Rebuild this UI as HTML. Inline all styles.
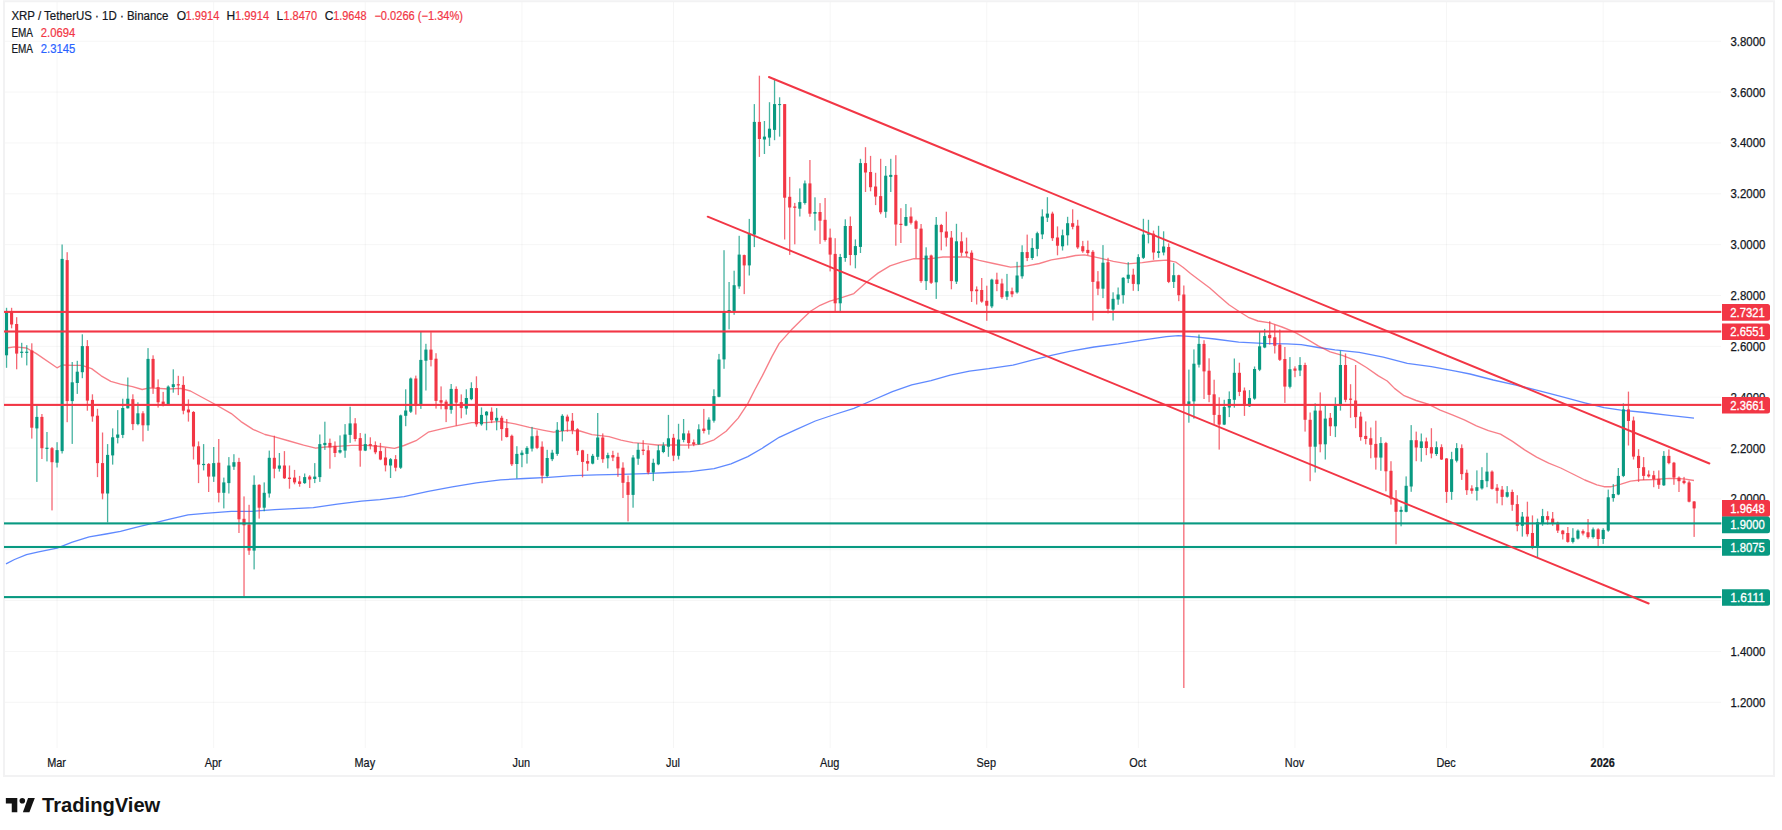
<!DOCTYPE html>
<html lang="en"><head><meta charset="utf-8"><title>XRP / TetherUS chart</title>
<style>html,body{margin:0;padding:0;background:#fff}body{width:1782px;height:830px;overflow:hidden;font-family:"Liberation Sans",sans-serif}svg{display:block}text{font-family:"Liberation Sans",sans-serif}</style>
</head><body>
<svg width="1782" height="830" viewBox="0 0 1782 830">
<rect width="1782" height="830" fill="#fff"/>
<g stroke="#000" stroke-opacity="0.04" stroke-width="1">
<line x1="5" x2="1721" y1="41.25" y2="41.25"/>
<line x1="5" x2="1721" y1="92.10" y2="92.10"/>
<line x1="5" x2="1721" y1="142.95" y2="142.95"/>
<line x1="5" x2="1721" y1="193.80" y2="193.80"/>
<line x1="5" x2="1721" y1="244.65" y2="244.65"/>
<line x1="5" x2="1721" y1="295.50" y2="295.50"/>
<line x1="5" x2="1721" y1="346.35" y2="346.35"/>
<line x1="5" x2="1721" y1="397.20" y2="397.20"/>
<line x1="5" x2="1721" y1="448.05" y2="448.05"/>
<line x1="5" x2="1721" y1="498.90" y2="498.90"/>
<line x1="5" x2="1721" y1="549.75" y2="549.75"/>
<line x1="5" x2="1721" y1="600.60" y2="600.60"/>
<line x1="5" x2="1721" y1="651.45" y2="651.45"/>
<line x1="5" x2="1721" y1="702.30" y2="702.30"/>
<line x1="57.07" x2="57.07" y1="2" y2="748"/>
<line x1="213.70" x2="213.70" y1="2" y2="748"/>
<line x1="365.28" x2="365.28" y1="2" y2="748"/>
<line x1="521.92" x2="521.92" y1="2" y2="748"/>
<line x1="673.50" x2="673.50" y1="2" y2="748"/>
<line x1="830.13" x2="830.13" y1="2" y2="748"/>
<line x1="986.76" x2="986.76" y1="2" y2="748"/>
<line x1="1138.34" x2="1138.34" y1="2" y2="748"/>
<line x1="1294.98" x2="1294.98" y1="2" y2="748"/>
<line x1="1446.56" x2="1446.56" y1="2" y2="748"/>
<line x1="1603.19" x2="1603.19" y1="2" y2="748"/>
</g>
<path d="M4 776V1.3H1774V776Z" fill="none" stroke="#f2f2f3" stroke-width="2"/>
<polyline points="6.0,563.9 14.5,559.5 26.5,554.7 38.6,551.8 57.1,548.2 72.3,542.2 89.2,536.9 106.0,534.0 120.5,531.3 134.9,527.7 149.4,524.1 168.7,519.3 188.0,514.9 204.8,513.3 231.3,511.3 253.0,511.3 274.7,509.6 313.3,507.7 337.3,504.1 361.4,501.2 380.0,499.7 404.0,496.6 428.2,491.3 452.3,486.9 476.4,482.8 500.5,479.9 524.6,478.5 548.7,477.3 572.8,475.6 596.9,474.9 621.0,474.4 645.0,473.7 669.0,472.5 690.0,471.6 714.1,468.7 731.0,463.9 747.8,456.6 762.3,448.2 779.2,437.3 796.0,429.6 815.3,421.0 834.6,414.5 853.9,408.4 873.1,400.0 892.4,391.6 911.7,384.8 931.0,380.7 950.2,375.2 969.5,371.1 988.8,368.7 1012.9,365.1 1032.2,360.2 1051.4,355.4 1070.7,351.1 1094.1,347.0 1118.2,343.9 1142.3,340.2 1166.4,336.6 1178.4,335.7 1195.3,336.9 1214.6,339.0 1238.7,342.2 1262.8,343.4 1286.9,343.9 1301.3,344.6 1318.2,347.5 1335.0,349.9 1359.2,352.3 1383.3,357.1 1407.3,363.4 1431.4,366.7 1455.5,371.1 1470.0,374.0 1493.3,380.0 1514.9,384.8 1536.6,390.1 1560.7,396.4 1584.8,402.9 1604.1,407.7 1621.0,410.1 1645.1,412.5 1669.2,415.4 1694.0,418.1" fill="none" stroke="#2962ff" stroke-width="1.3" stroke-opacity="0.75" stroke-linejoin="round"/>
<polyline points="6.7,348.0 14.5,346.9 26.5,348.0 36.0,353.4 57.0,367.8 62.2,365.0 72.3,365.4 82.0,365.4 91.6,368.6 101.2,375.8 110.8,381.3 120.5,384.2 132.5,386.6 142.2,389.5 149.4,387.8 168.7,389.0 180.7,388.3 190.4,391.0 202.4,397.5 214.5,404.0 231.3,413.6 241.0,421.6 253.0,429.4 265.0,434.5 274.7,436.9 289.2,441.0 303.6,445.1 315.7,448.2 325.3,447.0 337.3,446.3 351.8,445.3 366.3,445.3 380.7,446.5 394.5,448.4 404.0,445.5 416.0,440.7 428.2,432.2 442.7,428.6 457.0,425.7 471.6,422.6 486.0,422.6 500.5,421.4 515.0,423.8 529.4,427.4 543.9,430.3 553.5,432.2 568.0,430.3 580.0,431.0 592.0,434.6 609.0,436.6 621.0,440.2 633.0,442.6 645.0,443.6 657.0,445.0 674.0,444.8 690.0,445.1 702.0,444.1 714.1,439.8 726.1,431.3 738.2,418.1 747.8,403.6 755.1,389.2 762.3,375.9 771.9,356.6 779.2,343.4 791.2,330.1 800.8,320.5 810.5,311.3 820.1,305.3 829.8,301.2 839.4,298.4 853.9,293.6 865.9,282.8 878.0,273.1 890.0,265.9 902.0,261.8 914.1,258.7 931.0,258.7 943.0,257.0 955.0,257.0 967.1,257.0 979.2,260.4 993.6,263.5 1010.5,267.1 1027.3,265.9 1039.4,263.5 1051.4,259.9 1065.9,257.5 1075.5,255.5 1084.5,254.9 1098.9,257.8 1113.4,261.4 1127.8,263.9 1142.3,262.7 1154.3,261.0 1166.4,260.2 1176.0,262.2 1183.3,267.5 1190.5,273.5 1200.1,280.7 1209.8,288.0 1219.4,296.4 1229.0,304.8 1238.7,311.3 1248.3,317.3 1258.0,321.0 1270.0,322.9 1282.0,327.0 1294.1,331.8 1306.1,338.6 1318.2,345.8 1330.2,351.8 1342.3,355.4 1354.3,360.2 1366.4,367.5 1378.4,375.9 1387.2,381.0 1394.5,388.4 1404.1,395.7 1416.1,400.5 1428.2,404.1 1440.2,410.1 1452.3,414.9 1464.3,419.8 1476.4,425.8 1488.4,430.6 1500.5,434.2 1512.5,441.4 1524.6,449.9 1536.6,457.1 1548.7,463.1 1560.7,468.0 1572.8,474.0 1584.8,480.0 1596.9,484.8 1604.1,486.7 1611.3,486.7 1621.0,484.1 1630.6,481.2 1640.2,480.0 1654.7,479.5 1669.2,478.3 1683.6,478.8 1694.0,480.5" fill="none" stroke="#f23645" stroke-width="1.35" stroke-opacity="0.64" stroke-linejoin="round"/>
<g>
<rect x="5.89" y="307.8" width="1.3" height="60.0" fill="#089981" fill-opacity="0.75"/>
<rect x="4.99" y="311.9" width="3.1" height="43.4" fill="#089981"/>
<rect x="10.94" y="307.8" width="1.3" height="20.5" fill="#f23645" fill-opacity="0.75"/>
<rect x="10.04" y="311.4" width="3.1" height="13.1" fill="#f23645"/>
<rect x="16.00" y="317.2" width="1.3" height="52.1" fill="#f23645" fill-opacity="0.75"/>
<rect x="15.10" y="324.0" width="3.1" height="29.6" fill="#f23645"/>
<rect x="21.05" y="342.8" width="1.3" height="14.9" fill="#089981" fill-opacity="0.75"/>
<rect x="20.15" y="351.7" width="3.1" height="1.2" fill="#089981"/>
<rect x="26.10" y="345.2" width="1.3" height="20.2" fill="#089981" fill-opacity="0.75"/>
<rect x="25.20" y="351.7" width="3.1" height="1.2" fill="#089981"/>
<rect x="31.15" y="343.3" width="1.3" height="95.3" fill="#f23645" fill-opacity="0.75"/>
<rect x="30.25" y="350.5" width="3.1" height="77.2" fill="#f23645"/>
<rect x="36.21" y="405.3" width="1.3" height="76.6" fill="#089981" fill-opacity="0.75"/>
<rect x="35.31" y="416.9" width="3.1" height="11.5" fill="#089981"/>
<rect x="41.26" y="414.0" width="1.3" height="45.0" fill="#f23645" fill-opacity="0.75"/>
<rect x="40.36" y="416.9" width="3.1" height="31.3" fill="#f23645"/>
<rect x="46.31" y="432.0" width="1.3" height="29.4" fill="#089981" fill-opacity="0.75"/>
<rect x="45.41" y="447.7" width="3.1" height="1.2" fill="#089981"/>
<rect x="51.36" y="447.0" width="1.3" height="63.4" fill="#f23645" fill-opacity="0.75"/>
<rect x="50.46" y="448.2" width="3.1" height="14.0" fill="#f23645"/>
<rect x="56.42" y="442.2" width="1.3" height="25.3" fill="#089981" fill-opacity="0.75"/>
<rect x="55.52" y="450.1" width="3.1" height="12.6" fill="#089981"/>
<rect x="61.47" y="244.5" width="1.3" height="209.0" fill="#089981" fill-opacity="0.75"/>
<rect x="60.57" y="258.9" width="3.1" height="192.2" fill="#089981"/>
<rect x="66.52" y="252.2" width="1.3" height="170.0" fill="#f23645" fill-opacity="0.75"/>
<rect x="65.62" y="260.1" width="3.1" height="141.0" fill="#f23645"/>
<rect x="71.58" y="362.0" width="1.3" height="81.9" fill="#089981" fill-opacity="0.75"/>
<rect x="70.68" y="382.3" width="3.1" height="18.8" fill="#089981"/>
<rect x="76.63" y="360.8" width="1.3" height="33.1" fill="#089981" fill-opacity="0.75"/>
<rect x="75.73" y="371.7" width="3.1" height="11.3" fill="#089981"/>
<rect x="81.68" y="334.3" width="1.3" height="43.9" fill="#089981" fill-opacity="0.75"/>
<rect x="80.78" y="346.1" width="3.1" height="26.1" fill="#089981"/>
<rect x="86.73" y="340.1" width="1.3" height="70.6" fill="#f23645" fill-opacity="0.75"/>
<rect x="85.83" y="346.1" width="3.1" height="54.5" fill="#f23645"/>
<rect x="91.79" y="394.3" width="1.3" height="27.4" fill="#f23645" fill-opacity="0.75"/>
<rect x="90.89" y="399.9" width="3.1" height="16.5" fill="#f23645"/>
<rect x="96.84" y="408.8" width="1.3" height="68.3" fill="#f23645" fill-opacity="0.75"/>
<rect x="95.94" y="415.7" width="3.1" height="47.4" fill="#f23645"/>
<rect x="101.89" y="432.5" width="1.3" height="66.8" fill="#f23645" fill-opacity="0.75"/>
<rect x="100.99" y="463.1" width="3.1" height="30.4" fill="#f23645"/>
<rect x="106.94" y="444.1" width="1.3" height="78.3" fill="#089981" fill-opacity="0.75"/>
<rect x="106.04" y="454.9" width="3.1" height="38.6" fill="#089981"/>
<rect x="112.00" y="428.4" width="1.3" height="36.2" fill="#089981" fill-opacity="0.75"/>
<rect x="111.10" y="437.3" width="3.1" height="18.1" fill="#089981"/>
<rect x="117.05" y="410.1" width="1.3" height="33.3" fill="#089981" fill-opacity="0.75"/>
<rect x="116.15" y="434.5" width="3.1" height="3.3" fill="#089981"/>
<rect x="122.10" y="398.7" width="1.3" height="39.4" fill="#089981" fill-opacity="0.75"/>
<rect x="121.20" y="408.0" width="3.1" height="26.9" fill="#089981"/>
<rect x="127.15" y="377.5" width="1.3" height="31.0" fill="#089981" fill-opacity="0.75"/>
<rect x="126.25" y="398.7" width="3.1" height="9.6" fill="#089981"/>
<rect x="132.21" y="394.3" width="1.3" height="35.8" fill="#f23645" fill-opacity="0.75"/>
<rect x="131.31" y="399.2" width="3.1" height="24.9" fill="#f23645"/>
<rect x="137.26" y="402.3" width="1.3" height="23.0" fill="#089981" fill-opacity="0.75"/>
<rect x="136.36" y="413.3" width="3.1" height="10.8" fill="#089981"/>
<rect x="142.31" y="411.2" width="1.3" height="30.2" fill="#f23645" fill-opacity="0.75"/>
<rect x="141.41" y="413.3" width="3.1" height="12.0" fill="#f23645"/>
<rect x="147.37" y="348.1" width="1.3" height="82.7" fill="#089981" fill-opacity="0.75"/>
<rect x="146.47" y="358.9" width="3.1" height="66.4" fill="#089981"/>
<rect x="152.42" y="355.3" width="1.3" height="38.6" fill="#f23645" fill-opacity="0.75"/>
<rect x="151.52" y="358.9" width="3.1" height="28.9" fill="#f23645"/>
<rect x="157.47" y="379.4" width="1.3" height="28.2" fill="#f23645" fill-opacity="0.75"/>
<rect x="156.57" y="387.1" width="3.1" height="15.2" fill="#f23645"/>
<rect x="162.52" y="391.9" width="1.3" height="14.5" fill="#f23645" fill-opacity="0.75"/>
<rect x="161.62" y="401.6" width="3.1" height="3.1" fill="#f23645"/>
<rect x="167.58" y="385.4" width="1.3" height="20.0" fill="#089981" fill-opacity="0.75"/>
<rect x="166.68" y="386.6" width="3.1" height="18.1" fill="#089981"/>
<rect x="172.63" y="369.3" width="1.3" height="23.4" fill="#089981" fill-opacity="0.75"/>
<rect x="171.73" y="384.2" width="3.1" height="2.9" fill="#089981"/>
<rect x="177.68" y="375.8" width="1.3" height="19.3" fill="#f23645" fill-opacity="0.75"/>
<rect x="176.78" y="384.2" width="3.1" height="1.2" fill="#f23645"/>
<rect x="182.73" y="376.3" width="1.3" height="38.0" fill="#f23645" fill-opacity="0.75"/>
<rect x="181.83" y="384.9" width="3.1" height="25.8" fill="#f23645"/>
<rect x="187.79" y="399.4" width="1.3" height="22.2" fill="#f23645" fill-opacity="0.75"/>
<rect x="186.89" y="409.5" width="3.1" height="2.9" fill="#f23645"/>
<rect x="192.84" y="411.0" width="1.3" height="48.5" fill="#f23645" fill-opacity="0.75"/>
<rect x="191.94" y="412.0" width="3.1" height="34.5" fill="#f23645"/>
<rect x="197.89" y="441.4" width="1.3" height="41.7" fill="#f23645" fill-opacity="0.75"/>
<rect x="196.99" y="446.3" width="3.1" height="18.3" fill="#f23645"/>
<rect x="202.95" y="444.1" width="1.3" height="26.3" fill="#089981" fill-opacity="0.75"/>
<rect x="202.05" y="463.9" width="3.1" height="1.2" fill="#089981"/>
<rect x="208.00" y="463.1" width="1.3" height="28.9" fill="#f23645" fill-opacity="0.75"/>
<rect x="207.10" y="463.9" width="3.1" height="12.7" fill="#f23645"/>
<rect x="213.05" y="447.0" width="1.3" height="34.9" fill="#089981" fill-opacity="0.75"/>
<rect x="212.15" y="463.1" width="3.1" height="13.5" fill="#089981"/>
<rect x="218.10" y="439.0" width="1.3" height="63.4" fill="#f23645" fill-opacity="0.75"/>
<rect x="217.20" y="462.7" width="3.1" height="30.1" fill="#f23645"/>
<rect x="223.16" y="477.6" width="1.3" height="30.8" fill="#089981" fill-opacity="0.75"/>
<rect x="222.26" y="482.4" width="3.1" height="10.4" fill="#089981"/>
<rect x="228.21" y="457.1" width="1.3" height="36.4" fill="#089981" fill-opacity="0.75"/>
<rect x="227.31" y="465.5" width="3.1" height="17.6" fill="#089981"/>
<rect x="233.26" y="454.2" width="1.3" height="15.7" fill="#089981" fill-opacity="0.75"/>
<rect x="232.36" y="462.2" width="3.1" height="4.5" fill="#089981"/>
<rect x="238.31" y="457.8" width="1.3" height="75.2" fill="#f23645" fill-opacity="0.75"/>
<rect x="237.41" y="461.9" width="3.1" height="57.4" fill="#f23645"/>
<rect x="243.37" y="496.4" width="1.3" height="100.0" fill="#f23645" fill-opacity="0.75"/>
<rect x="242.47" y="518.8" width="3.1" height="6.5" fill="#f23645"/>
<rect x="248.42" y="504.8" width="1.3" height="50.1" fill="#f23645" fill-opacity="0.75"/>
<rect x="247.52" y="524.6" width="3.1" height="26.0" fill="#f23645"/>
<rect x="253.47" y="475.4" width="1.3" height="94.0" fill="#089981" fill-opacity="0.75"/>
<rect x="252.57" y="484.8" width="3.1" height="65.8" fill="#089981"/>
<rect x="258.53" y="484.3" width="1.3" height="34.3" fill="#f23645" fill-opacity="0.75"/>
<rect x="257.62" y="484.8" width="3.1" height="22.9" fill="#f23645"/>
<rect x="263.58" y="482.4" width="1.3" height="28.9" fill="#089981" fill-opacity="0.75"/>
<rect x="262.68" y="492.8" width="3.1" height="14.9" fill="#089981"/>
<rect x="268.63" y="450.6" width="1.3" height="47.0" fill="#089981" fill-opacity="0.75"/>
<rect x="267.73" y="457.8" width="3.1" height="35.7" fill="#089981"/>
<rect x="273.68" y="435.7" width="1.3" height="42.6" fill="#f23645" fill-opacity="0.75"/>
<rect x="272.78" y="457.8" width="3.1" height="10.9" fill="#f23645"/>
<rect x="278.74" y="453.0" width="1.3" height="18.6" fill="#089981" fill-opacity="0.75"/>
<rect x="277.84" y="465.5" width="3.1" height="3.2" fill="#089981"/>
<rect x="283.79" y="451.1" width="1.3" height="27.9" fill="#f23645" fill-opacity="0.75"/>
<rect x="282.89" y="465.5" width="3.1" height="12.8" fill="#f23645"/>
<rect x="288.84" y="465.5" width="1.3" height="23.2" fill="#f23645" fill-opacity="0.75"/>
<rect x="287.94" y="477.6" width="3.1" height="1.4" fill="#f23645"/>
<rect x="293.89" y="469.9" width="1.3" height="14.4" fill="#f23645" fill-opacity="0.75"/>
<rect x="292.99" y="477.6" width="3.1" height="4.8" fill="#f23645"/>
<rect x="298.95" y="475.9" width="1.3" height="10.8" fill="#f23645" fill-opacity="0.75"/>
<rect x="298.05" y="481.4" width="3.1" height="2.5" fill="#f23645"/>
<rect x="304.00" y="473.5" width="1.3" height="10.4" fill="#089981" fill-opacity="0.75"/>
<rect x="303.10" y="477.1" width="3.1" height="6.0" fill="#089981"/>
<rect x="309.05" y="475.2" width="1.3" height="12.8" fill="#f23645" fill-opacity="0.75"/>
<rect x="308.15" y="476.6" width="3.1" height="2.9" fill="#f23645"/>
<rect x="314.10" y="463.1" width="1.3" height="20.0" fill="#089981" fill-opacity="0.75"/>
<rect x="313.20" y="476.6" width="3.1" height="2.4" fill="#089981"/>
<rect x="319.16" y="434.5" width="1.3" height="47.4" fill="#089981" fill-opacity="0.75"/>
<rect x="318.26" y="444.1" width="3.1" height="33.0" fill="#089981"/>
<rect x="324.21" y="421.7" width="1.3" height="28.2" fill="#089981" fill-opacity="0.75"/>
<rect x="323.31" y="442.9" width="3.1" height="2.2" fill="#089981"/>
<rect x="329.26" y="438.6" width="1.3" height="30.1" fill="#f23645" fill-opacity="0.75"/>
<rect x="328.36" y="442.9" width="3.1" height="4.6" fill="#f23645"/>
<rect x="334.32" y="441.4" width="1.3" height="15.7" fill="#f23645" fill-opacity="0.75"/>
<rect x="333.42" y="445.8" width="3.1" height="7.2" fill="#f23645"/>
<rect x="339.37" y="435.4" width="1.3" height="18.1" fill="#089981" fill-opacity="0.75"/>
<rect x="338.47" y="450.1" width="3.1" height="2.4" fill="#089981"/>
<rect x="344.42" y="424.1" width="1.3" height="33.7" fill="#089981" fill-opacity="0.75"/>
<rect x="343.52" y="434.5" width="3.1" height="16.1" fill="#089981"/>
<rect x="349.47" y="406.7" width="1.3" height="36.2" fill="#089981" fill-opacity="0.75"/>
<rect x="348.57" y="423.4" width="3.1" height="11.5" fill="#089981"/>
<rect x="354.53" y="418.1" width="1.3" height="23.3" fill="#f23645" fill-opacity="0.75"/>
<rect x="353.63" y="423.4" width="3.1" height="15.6" fill="#f23645"/>
<rect x="359.58" y="433.0" width="1.3" height="33.7" fill="#f23645" fill-opacity="0.75"/>
<rect x="358.68" y="438.1" width="3.1" height="12.5" fill="#f23645"/>
<rect x="364.63" y="433.7" width="1.3" height="17.4" fill="#089981" fill-opacity="0.75"/>
<rect x="363.73" y="444.1" width="3.1" height="6.5" fill="#089981"/>
<rect x="369.68" y="437.3" width="1.3" height="12.1" fill="#f23645" fill-opacity="0.75"/>
<rect x="368.78" y="444.1" width="3.1" height="1.7" fill="#f23645"/>
<rect x="374.74" y="441.4" width="1.3" height="12.8" fill="#f23645" fill-opacity="0.75"/>
<rect x="373.84" y="445.1" width="3.1" height="7.2" fill="#f23645"/>
<rect x="379.79" y="442.9" width="1.3" height="17.3" fill="#f23645" fill-opacity="0.75"/>
<rect x="378.89" y="451.1" width="3.1" height="8.4" fill="#f23645"/>
<rect x="384.84" y="447.8" width="1.3" height="23.6" fill="#f23645" fill-opacity="0.75"/>
<rect x="383.94" y="457.5" width="3.1" height="7.8" fill="#f23645"/>
<rect x="389.90" y="458.0" width="1.3" height="20.0" fill="#089981" fill-opacity="0.75"/>
<rect x="389.00" y="459.2" width="3.1" height="6.3" fill="#089981"/>
<rect x="394.95" y="455.1" width="1.3" height="16.2" fill="#f23645" fill-opacity="0.75"/>
<rect x="394.05" y="459.2" width="3.1" height="8.5" fill="#f23645"/>
<rect x="400.00" y="414.6" width="1.3" height="54.3" fill="#089981" fill-opacity="0.75"/>
<rect x="399.10" y="415.4" width="3.1" height="52.3" fill="#089981"/>
<rect x="405.05" y="389.3" width="1.3" height="36.9" fill="#089981" fill-opacity="0.75"/>
<rect x="404.15" y="410.5" width="3.1" height="5.3" fill="#089981"/>
<rect x="410.11" y="377.5" width="1.3" height="35.5" fill="#089981" fill-opacity="0.75"/>
<rect x="409.21" y="378.5" width="3.1" height="33.2" fill="#089981"/>
<rect x="415.16" y="375.6" width="1.3" height="39.0" fill="#f23645" fill-opacity="0.75"/>
<rect x="414.26" y="378.5" width="3.1" height="27.2" fill="#f23645"/>
<rect x="420.21" y="331.7" width="1.3" height="77.2" fill="#089981" fill-opacity="0.75"/>
<rect x="419.31" y="359.9" width="3.1" height="45.8" fill="#089981"/>
<rect x="425.26" y="343.8" width="1.3" height="46.7" fill="#089981" fill-opacity="0.75"/>
<rect x="424.36" y="349.6" width="3.1" height="11.1" fill="#089981"/>
<rect x="430.32" y="332.2" width="1.3" height="34.2" fill="#f23645" fill-opacity="0.75"/>
<rect x="429.42" y="349.6" width="3.1" height="10.3" fill="#f23645"/>
<rect x="435.37" y="353.2" width="1.3" height="55.4" fill="#f23645" fill-opacity="0.75"/>
<rect x="434.47" y="358.7" width="3.1" height="42.2" fill="#f23645"/>
<rect x="440.42" y="386.4" width="1.3" height="22.9" fill="#f23645" fill-opacity="0.75"/>
<rect x="439.52" y="400.2" width="3.1" height="2.4" fill="#f23645"/>
<rect x="445.47" y="399.7" width="1.3" height="22.4" fill="#f23645" fill-opacity="0.75"/>
<rect x="444.57" y="401.6" width="3.1" height="7.7" fill="#f23645"/>
<rect x="450.53" y="384.0" width="1.3" height="29.7" fill="#089981" fill-opacity="0.75"/>
<rect x="449.63" y="388.9" width="3.1" height="20.9" fill="#089981"/>
<rect x="455.58" y="386.4" width="1.3" height="39.3" fill="#f23645" fill-opacity="0.75"/>
<rect x="454.68" y="388.9" width="3.1" height="13.7" fill="#f23645"/>
<rect x="460.63" y="394.4" width="1.3" height="23.9" fill="#f23645" fill-opacity="0.75"/>
<rect x="459.73" y="402.1" width="3.1" height="6.0" fill="#f23645"/>
<rect x="465.69" y="389.3" width="1.3" height="25.3" fill="#089981" fill-opacity="0.75"/>
<rect x="464.79" y="398.0" width="3.1" height="10.6" fill="#089981"/>
<rect x="470.74" y="382.3" width="1.3" height="17.9" fill="#089981" fill-opacity="0.75"/>
<rect x="469.84" y="388.1" width="3.1" height="11.1" fill="#089981"/>
<rect x="475.79" y="376.3" width="1.3" height="50.4" fill="#f23645" fill-opacity="0.75"/>
<rect x="474.89" y="388.1" width="3.1" height="36.2" fill="#f23645"/>
<rect x="480.84" y="407.4" width="1.3" height="18.3" fill="#089981" fill-opacity="0.75"/>
<rect x="479.94" y="414.9" width="3.1" height="9.4" fill="#089981"/>
<rect x="485.90" y="411.0" width="1.3" height="19.3" fill="#089981" fill-opacity="0.75"/>
<rect x="485.00" y="411.7" width="3.1" height="3.7" fill="#089981"/>
<rect x="490.95" y="407.4" width="1.3" height="15.7" fill="#f23645" fill-opacity="0.75"/>
<rect x="490.05" y="411.7" width="3.1" height="8.5" fill="#f23645"/>
<rect x="496.00" y="408.1" width="1.3" height="22.2" fill="#089981" fill-opacity="0.75"/>
<rect x="495.10" y="417.8" width="3.1" height="2.9" fill="#089981"/>
<rect x="501.05" y="415.8" width="1.3" height="24.9" fill="#f23645" fill-opacity="0.75"/>
<rect x="500.15" y="417.8" width="3.1" height="11.3" fill="#f23645"/>
<rect x="506.11" y="419.0" width="1.3" height="18.5" fill="#f23645" fill-opacity="0.75"/>
<rect x="505.21" y="428.1" width="3.1" height="8.9" fill="#f23645"/>
<rect x="511.16" y="434.6" width="1.3" height="31.4" fill="#f23645" fill-opacity="0.75"/>
<rect x="510.26" y="435.8" width="3.1" height="28.5" fill="#f23645"/>
<rect x="516.21" y="446.2" width="1.3" height="32.3" fill="#089981" fill-opacity="0.75"/>
<rect x="515.31" y="453.9" width="3.1" height="10.1" fill="#089981"/>
<rect x="521.27" y="450.3" width="1.3" height="16.9" fill="#089981" fill-opacity="0.75"/>
<rect x="520.37" y="452.7" width="3.1" height="2.4" fill="#089981"/>
<rect x="526.32" y="446.2" width="1.3" height="17.4" fill="#089981" fill-opacity="0.75"/>
<rect x="525.42" y="447.9" width="3.1" height="6.0" fill="#089981"/>
<rect x="531.37" y="426.9" width="1.3" height="24.6" fill="#089981" fill-opacity="0.75"/>
<rect x="530.47" y="436.3" width="3.1" height="12.3" fill="#089981"/>
<rect x="536.42" y="430.3" width="1.3" height="18.8" fill="#f23645" fill-opacity="0.75"/>
<rect x="535.52" y="435.8" width="3.1" height="12.1" fill="#f23645"/>
<rect x="541.48" y="441.4" width="1.3" height="41.9" fill="#f23645" fill-opacity="0.75"/>
<rect x="540.58" y="446.7" width="3.1" height="28.9" fill="#f23645"/>
<rect x="546.53" y="449.8" width="1.3" height="27.7" fill="#089981" fill-opacity="0.75"/>
<rect x="545.63" y="458.0" width="3.1" height="18.1" fill="#089981"/>
<rect x="551.58" y="449.8" width="1.3" height="11.3" fill="#089981" fill-opacity="0.75"/>
<rect x="550.68" y="452.7" width="3.1" height="6.5" fill="#089981"/>
<rect x="556.63" y="422.1" width="1.3" height="33.7" fill="#089981" fill-opacity="0.75"/>
<rect x="555.73" y="429.8" width="3.1" height="24.1" fill="#089981"/>
<rect x="561.69" y="414.2" width="1.3" height="27.2" fill="#089981" fill-opacity="0.75"/>
<rect x="560.79" y="415.8" width="3.1" height="15.2" fill="#089981"/>
<rect x="566.74" y="414.6" width="1.3" height="17.1" fill="#f23645" fill-opacity="0.75"/>
<rect x="565.84" y="416.6" width="3.1" height="4.8" fill="#f23645"/>
<rect x="571.79" y="413.0" width="1.3" height="21.2" fill="#f23645" fill-opacity="0.75"/>
<rect x="570.89" y="420.7" width="3.1" height="9.6" fill="#f23645"/>
<rect x="576.85" y="428.1" width="1.3" height="27.0" fill="#f23645" fill-opacity="0.75"/>
<rect x="575.95" y="429.3" width="3.1" height="21.5" fill="#f23645"/>
<rect x="581.90" y="449.8" width="1.3" height="27.5" fill="#f23645" fill-opacity="0.75"/>
<rect x="581.00" y="450.3" width="3.1" height="11.6" fill="#f23645"/>
<rect x="586.95" y="453.9" width="1.3" height="16.9" fill="#f23645" fill-opacity="0.75"/>
<rect x="586.05" y="461.1" width="3.1" height="2.5" fill="#f23645"/>
<rect x="592.00" y="453.9" width="1.3" height="10.4" fill="#089981" fill-opacity="0.75"/>
<rect x="591.10" y="455.8" width="3.1" height="7.8" fill="#089981"/>
<rect x="597.06" y="413.0" width="1.3" height="46.9" fill="#089981" fill-opacity="0.75"/>
<rect x="596.16" y="437.5" width="3.1" height="19.3" fill="#089981"/>
<rect x="602.11" y="433.4" width="1.3" height="29.4" fill="#f23645" fill-opacity="0.75"/>
<rect x="601.21" y="437.5" width="3.1" height="21.7" fill="#f23645"/>
<rect x="607.16" y="452.7" width="1.3" height="15.7" fill="#089981" fill-opacity="0.75"/>
<rect x="606.26" y="455.1" width="3.1" height="3.2" fill="#089981"/>
<rect x="612.21" y="450.8" width="1.3" height="10.3" fill="#f23645" fill-opacity="0.75"/>
<rect x="611.31" y="455.1" width="3.1" height="2.4" fill="#f23645"/>
<rect x="617.27" y="452.7" width="1.3" height="24.1" fill="#f23645" fill-opacity="0.75"/>
<rect x="616.37" y="456.8" width="3.1" height="11.6" fill="#f23645"/>
<rect x="622.32" y="462.3" width="1.3" height="35.7" fill="#f23645" fill-opacity="0.75"/>
<rect x="621.42" y="467.7" width="3.1" height="15.1" fill="#f23645"/>
<rect x="627.37" y="475.6" width="1.3" height="45.8" fill="#f23645" fill-opacity="0.75"/>
<rect x="626.47" y="482.1" width="3.1" height="12.8" fill="#f23645"/>
<rect x="632.42" y="455.1" width="1.3" height="52.6" fill="#089981" fill-opacity="0.75"/>
<rect x="631.52" y="457.5" width="3.1" height="37.4" fill="#089981"/>
<rect x="637.48" y="443.1" width="1.3" height="21.7" fill="#089981" fill-opacity="0.75"/>
<rect x="636.58" y="449.8" width="3.1" height="8.9" fill="#089981"/>
<rect x="642.53" y="440.2" width="1.3" height="14.9" fill="#f23645" fill-opacity="0.75"/>
<rect x="641.63" y="449.6" width="3.1" height="1.4" fill="#f23645"/>
<rect x="647.58" y="445.5" width="1.3" height="28.9" fill="#f23645" fill-opacity="0.75"/>
<rect x="646.68" y="450.3" width="3.1" height="22.2" fill="#f23645"/>
<rect x="652.64" y="458.7" width="1.3" height="22.4" fill="#089981" fill-opacity="0.75"/>
<rect x="651.74" y="462.8" width="3.1" height="9.7" fill="#089981"/>
<rect x="657.69" y="445.0" width="1.3" height="20.2" fill="#089981" fill-opacity="0.75"/>
<rect x="656.79" y="450.3" width="3.1" height="14.0" fill="#089981"/>
<rect x="662.74" y="442.3" width="1.3" height="10.9" fill="#089981" fill-opacity="0.75"/>
<rect x="661.84" y="445.5" width="3.1" height="6.5" fill="#089981"/>
<rect x="667.79" y="414.9" width="1.3" height="41.9" fill="#089981" fill-opacity="0.75"/>
<rect x="666.89" y="438.3" width="3.1" height="8.4" fill="#089981"/>
<rect x="672.85" y="433.9" width="1.3" height="27.2" fill="#f23645" fill-opacity="0.75"/>
<rect x="671.95" y="437.8" width="3.1" height="17.8" fill="#f23645"/>
<rect x="677.90" y="423.8" width="1.3" height="35.7" fill="#089981" fill-opacity="0.75"/>
<rect x="677.00" y="439.5" width="3.1" height="16.3" fill="#089981"/>
<rect x="682.95" y="419.0" width="1.3" height="23.3" fill="#089981" fill-opacity="0.75"/>
<rect x="682.05" y="433.4" width="3.1" height="6.5" fill="#089981"/>
<rect x="688.00" y="430.5" width="1.3" height="18.1" fill="#f23645" fill-opacity="0.75"/>
<rect x="687.10" y="433.4" width="3.1" height="9.7" fill="#f23645"/>
<rect x="693.06" y="439.5" width="1.3" height="6.7" fill="#f23645" fill-opacity="0.75"/>
<rect x="692.16" y="442.3" width="3.1" height="2.0" fill="#f23645"/>
<rect x="698.11" y="424.3" width="1.3" height="20.5" fill="#089981" fill-opacity="0.75"/>
<rect x="697.21" y="429.3" width="3.1" height="15.0" fill="#089981"/>
<rect x="703.16" y="408.9" width="1.3" height="24.5" fill="#f23645" fill-opacity="0.75"/>
<rect x="702.26" y="428.6" width="3.1" height="2.4" fill="#f23645"/>
<rect x="708.22" y="417.3" width="1.3" height="17.3" fill="#089981" fill-opacity="0.75"/>
<rect x="707.32" y="419.7" width="3.1" height="10.1" fill="#089981"/>
<rect x="713.27" y="389.3" width="1.3" height="33.3" fill="#089981" fill-opacity="0.75"/>
<rect x="712.37" y="396.1" width="3.1" height="24.6" fill="#089981"/>
<rect x="718.32" y="353.9" width="1.3" height="43.4" fill="#089981" fill-opacity="0.75"/>
<rect x="717.42" y="359.5" width="3.1" height="37.3" fill="#089981"/>
<rect x="723.37" y="250.2" width="1.3" height="118.6" fill="#089981" fill-opacity="0.75"/>
<rect x="722.47" y="311.7" width="3.1" height="47.7" fill="#089981"/>
<rect x="728.43" y="282.0" width="1.3" height="47.3" fill="#089981" fill-opacity="0.75"/>
<rect x="727.53" y="310.0" width="3.1" height="2.2" fill="#089981"/>
<rect x="733.48" y="270.7" width="1.3" height="44.1" fill="#089981" fill-opacity="0.75"/>
<rect x="732.58" y="285.2" width="3.1" height="26.5" fill="#089981"/>
<rect x="738.53" y="235.8" width="1.3" height="53.0" fill="#089981" fill-opacity="0.75"/>
<rect x="737.63" y="254.6" width="3.1" height="31.8" fill="#089981"/>
<rect x="743.58" y="254.6" width="1.3" height="39.5" fill="#f23645" fill-opacity="0.75"/>
<rect x="742.68" y="255.1" width="3.1" height="10.3" fill="#f23645"/>
<rect x="748.64" y="218.9" width="1.3" height="56.6" fill="#089981" fill-opacity="0.75"/>
<rect x="747.74" y="234.1" width="3.1" height="31.3" fill="#089981"/>
<rect x="753.69" y="104.1" width="1.3" height="143.0" fill="#089981" fill-opacity="0.75"/>
<rect x="752.79" y="121.9" width="3.1" height="112.7" fill="#089981"/>
<rect x="758.74" y="75.7" width="1.3" height="81.2" fill="#f23645" fill-opacity="0.75"/>
<rect x="757.84" y="121.9" width="3.1" height="17.1" fill="#f23645"/>
<rect x="763.79" y="121.0" width="1.3" height="33.0" fill="#089981" fill-opacity="0.75"/>
<rect x="762.89" y="136.6" width="3.1" height="2.9" fill="#089981"/>
<rect x="768.85" y="102.2" width="1.3" height="43.8" fill="#089981" fill-opacity="0.75"/>
<rect x="767.95" y="128.7" width="3.1" height="8.9" fill="#089981"/>
<rect x="773.90" y="78.8" width="1.3" height="61.4" fill="#089981" fill-opacity="0.75"/>
<rect x="773.00" y="104.1" width="3.1" height="25.8" fill="#089981"/>
<rect x="778.95" y="97.3" width="1.3" height="39.3" fill="#089981" fill-opacity="0.75"/>
<rect x="778.05" y="104.1" width="3.1" height="1.0" fill="#089981"/>
<rect x="784.01" y="104.1" width="1.3" height="135.4" fill="#f23645" fill-opacity="0.75"/>
<rect x="783.11" y="104.1" width="3.1" height="93.6" fill="#f23645"/>
<rect x="789.06" y="176.9" width="1.3" height="78.0" fill="#f23645" fill-opacity="0.75"/>
<rect x="788.16" y="196.8" width="3.1" height="10.7" fill="#f23645"/>
<rect x="794.11" y="202.9" width="1.3" height="41.4" fill="#f23645" fill-opacity="0.75"/>
<rect x="793.21" y="206.5" width="3.1" height="1.3" fill="#f23645"/>
<rect x="799.16" y="188.4" width="1.3" height="28.1" fill="#089981" fill-opacity="0.75"/>
<rect x="798.26" y="202.1" width="3.1" height="6.6" fill="#089981"/>
<rect x="804.22" y="180.5" width="1.3" height="24.1" fill="#089981" fill-opacity="0.75"/>
<rect x="803.32" y="183.4" width="3.1" height="19.6" fill="#089981"/>
<rect x="809.27" y="160.0" width="1.3" height="56.8" fill="#f23645" fill-opacity="0.75"/>
<rect x="808.37" y="183.4" width="3.1" height="30.3" fill="#f23645"/>
<rect x="814.32" y="197.3" width="1.3" height="33.2" fill="#089981" fill-opacity="0.75"/>
<rect x="813.42" y="212.0" width="3.1" height="1.7" fill="#089981"/>
<rect x="819.37" y="203.1" width="1.3" height="40.8" fill="#f23645" fill-opacity="0.75"/>
<rect x="818.47" y="212.0" width="3.1" height="8.7" fill="#f23645"/>
<rect x="824.43" y="198.0" width="1.3" height="43.6" fill="#f23645" fill-opacity="0.75"/>
<rect x="823.53" y="219.8" width="3.1" height="20.2" fill="#f23645"/>
<rect x="829.48" y="228.6" width="1.3" height="42.8" fill="#f23645" fill-opacity="0.75"/>
<rect x="828.58" y="237.6" width="3.1" height="17.0" fill="#f23645"/>
<rect x="834.53" y="238.2" width="1.3" height="73.5" fill="#f23645" fill-opacity="0.75"/>
<rect x="833.63" y="253.9" width="3.1" height="49.4" fill="#f23645"/>
<rect x="839.59" y="253.9" width="1.3" height="59.0" fill="#089981" fill-opacity="0.75"/>
<rect x="838.69" y="257.0" width="3.1" height="46.3" fill="#089981"/>
<rect x="844.64" y="219.3" width="1.3" height="42.5" fill="#089981" fill-opacity="0.75"/>
<rect x="843.74" y="226.0" width="3.1" height="32.0" fill="#089981"/>
<rect x="849.69" y="216.5" width="1.3" height="48.9" fill="#f23645" fill-opacity="0.75"/>
<rect x="848.79" y="226.0" width="3.1" height="29.0" fill="#f23645"/>
<rect x="854.74" y="239.4" width="1.3" height="28.9" fill="#089981" fill-opacity="0.75"/>
<rect x="853.84" y="246.1" width="3.1" height="9.0" fill="#089981"/>
<rect x="859.80" y="158.8" width="1.3" height="94.2" fill="#089981" fill-opacity="0.75"/>
<rect x="858.90" y="163.1" width="3.1" height="83.8" fill="#089981"/>
<rect x="864.85" y="147.2" width="1.3" height="44.8" fill="#f23645" fill-opacity="0.75"/>
<rect x="863.95" y="163.1" width="3.1" height="9.4" fill="#f23645"/>
<rect x="869.90" y="155.9" width="1.3" height="35.4" fill="#f23645" fill-opacity="0.75"/>
<rect x="869.00" y="172.0" width="3.1" height="15.2" fill="#f23645"/>
<rect x="874.95" y="172.8" width="1.3" height="32.3" fill="#f23645" fill-opacity="0.75"/>
<rect x="874.05" y="186.5" width="3.1" height="10.1" fill="#f23645"/>
<rect x="880.01" y="158.8" width="1.3" height="55.4" fill="#f23645" fill-opacity="0.75"/>
<rect x="879.11" y="196.1" width="3.1" height="16.2" fill="#f23645"/>
<rect x="885.06" y="166.0" width="1.3" height="51.8" fill="#089981" fill-opacity="0.75"/>
<rect x="884.16" y="175.7" width="3.1" height="36.1" fill="#089981"/>
<rect x="890.11" y="158.8" width="1.3" height="33.2" fill="#089981" fill-opacity="0.75"/>
<rect x="889.21" y="174.9" width="3.1" height="2.0" fill="#089981"/>
<rect x="895.17" y="155.2" width="1.3" height="90.5" fill="#f23645" fill-opacity="0.75"/>
<rect x="894.27" y="174.9" width="3.1" height="49.6" fill="#f23645"/>
<rect x="900.22" y="208.2" width="1.3" height="34.8" fill="#f23645" fill-opacity="0.75"/>
<rect x="899.32" y="223.8" width="3.1" height="1.2" fill="#f23645"/>
<rect x="905.27" y="204.0" width="1.3" height="22.2" fill="#089981" fill-opacity="0.75"/>
<rect x="904.37" y="217.0" width="3.1" height="8.7" fill="#089981"/>
<rect x="910.32" y="207.4" width="1.3" height="17.1" fill="#f23645" fill-opacity="0.75"/>
<rect x="909.42" y="216.5" width="3.1" height="6.3" fill="#f23645"/>
<rect x="915.38" y="219.8" width="1.3" height="38.4" fill="#f23645" fill-opacity="0.75"/>
<rect x="914.48" y="221.2" width="3.1" height="7.6" fill="#f23645"/>
<rect x="920.43" y="224.0" width="1.3" height="58.8" fill="#f23645" fill-opacity="0.75"/>
<rect x="919.53" y="228.6" width="3.1" height="52.5" fill="#f23645"/>
<rect x="925.48" y="247.3" width="1.3" height="42.7" fill="#089981" fill-opacity="0.75"/>
<rect x="924.58" y="255.6" width="3.1" height="25.5" fill="#089981"/>
<rect x="930.53" y="254.6" width="1.3" height="29.4" fill="#f23645" fill-opacity="0.75"/>
<rect x="929.63" y="255.5" width="3.1" height="27.3" fill="#f23645"/>
<rect x="935.59" y="217.0" width="1.3" height="81.9" fill="#089981" fill-opacity="0.75"/>
<rect x="934.69" y="224.8" width="3.1" height="57.5" fill="#089981"/>
<rect x="940.64" y="223.9" width="1.3" height="26.4" fill="#f23645" fill-opacity="0.75"/>
<rect x="939.74" y="225.0" width="3.1" height="7.2" fill="#f23645"/>
<rect x="945.69" y="211.7" width="1.3" height="34.8" fill="#f23645" fill-opacity="0.75"/>
<rect x="944.79" y="231.5" width="3.1" height="6.2" fill="#f23645"/>
<rect x="950.74" y="231.0" width="1.3" height="58.3" fill="#f23645" fill-opacity="0.75"/>
<rect x="949.84" y="237.6" width="3.1" height="43.5" fill="#f23645"/>
<rect x="955.80" y="223.8" width="1.3" height="60.2" fill="#089981" fill-opacity="0.75"/>
<rect x="954.90" y="241.3" width="3.1" height="40.3" fill="#089981"/>
<rect x="960.85" y="232.2" width="1.3" height="24.1" fill="#f23645" fill-opacity="0.75"/>
<rect x="959.95" y="241.3" width="3.1" height="11.4" fill="#f23645"/>
<rect x="965.90" y="237.6" width="1.3" height="19.1" fill="#f23645" fill-opacity="0.75"/>
<rect x="965.00" y="251.5" width="3.1" height="1.9" fill="#f23645"/>
<rect x="970.96" y="250.3" width="1.3" height="51.7" fill="#f23645" fill-opacity="0.75"/>
<rect x="970.06" y="252.7" width="3.1" height="38.5" fill="#f23645"/>
<rect x="976.01" y="286.4" width="1.3" height="18.1" fill="#f23645" fill-opacity="0.75"/>
<rect x="975.11" y="289.5" width="3.1" height="1.7" fill="#f23645"/>
<rect x="981.06" y="278.0" width="1.3" height="24.8" fill="#f23645" fill-opacity="0.75"/>
<rect x="980.16" y="290.0" width="3.1" height="11.6" fill="#f23645"/>
<rect x="986.11" y="285.7" width="1.3" height="35.1" fill="#f23645" fill-opacity="0.75"/>
<rect x="985.21" y="300.8" width="3.1" height="4.9" fill="#f23645"/>
<rect x="991.17" y="278.7" width="1.3" height="29.4" fill="#089981" fill-opacity="0.75"/>
<rect x="990.27" y="279.6" width="3.1" height="26.8" fill="#089981"/>
<rect x="996.22" y="272.7" width="1.3" height="18.5" fill="#f23645" fill-opacity="0.75"/>
<rect x="995.32" y="279.6" width="3.1" height="4.4" fill="#f23645"/>
<rect x="1001.27" y="278.7" width="1.3" height="20.2" fill="#f23645" fill-opacity="0.75"/>
<rect x="1000.37" y="283.5" width="3.1" height="13.7" fill="#f23645"/>
<rect x="1006.32" y="273.9" width="1.3" height="26.2" fill="#089981" fill-opacity="0.75"/>
<rect x="1005.42" y="291.2" width="3.1" height="5.5" fill="#089981"/>
<rect x="1011.38" y="287.6" width="1.3" height="9.6" fill="#f23645" fill-opacity="0.75"/>
<rect x="1010.48" y="291.2" width="3.1" height="3.1" fill="#f23645"/>
<rect x="1016.43" y="261.8" width="1.3" height="31.8" fill="#089981" fill-opacity="0.75"/>
<rect x="1015.53" y="275.5" width="3.1" height="16.9" fill="#089981"/>
<rect x="1021.48" y="245.3" width="1.3" height="33.4" fill="#089981" fill-opacity="0.75"/>
<rect x="1020.58" y="252.1" width="3.1" height="24.2" fill="#089981"/>
<rect x="1026.54" y="234.6" width="1.3" height="26.5" fill="#f23645" fill-opacity="0.75"/>
<rect x="1025.64" y="252.1" width="3.1" height="5.9" fill="#f23645"/>
<rect x="1031.59" y="238.2" width="1.3" height="21.7" fill="#089981" fill-opacity="0.75"/>
<rect x="1030.69" y="247.9" width="3.1" height="10.1" fill="#089981"/>
<rect x="1036.64" y="231.7" width="1.3" height="24.6" fill="#089981" fill-opacity="0.75"/>
<rect x="1035.74" y="233.2" width="3.1" height="15.7" fill="#089981"/>
<rect x="1041.69" y="209.3" width="1.3" height="29.8" fill="#089981" fill-opacity="0.75"/>
<rect x="1040.79" y="216.5" width="3.1" height="17.9" fill="#089981"/>
<rect x="1046.75" y="197.2" width="1.3" height="24.8" fill="#089981" fill-opacity="0.75"/>
<rect x="1045.85" y="213.6" width="3.1" height="4.1" fill="#089981"/>
<rect x="1051.80" y="211.7" width="1.3" height="29.2" fill="#f23645" fill-opacity="0.75"/>
<rect x="1050.90" y="213.6" width="3.1" height="24.6" fill="#f23645"/>
<rect x="1056.85" y="226.4" width="1.3" height="28.9" fill="#f23645" fill-opacity="0.75"/>
<rect x="1055.95" y="237.5" width="3.1" height="8.2" fill="#f23645"/>
<rect x="1061.90" y="229.6" width="1.3" height="20.9" fill="#089981" fill-opacity="0.75"/>
<rect x="1061.00" y="235.3" width="3.1" height="11.0" fill="#089981"/>
<rect x="1066.96" y="216.8" width="1.3" height="28.6" fill="#089981" fill-opacity="0.75"/>
<rect x="1066.06" y="223.2" width="3.1" height="12.1" fill="#089981"/>
<rect x="1072.01" y="209.3" width="1.3" height="20.0" fill="#f23645" fill-opacity="0.75"/>
<rect x="1071.11" y="223.2" width="3.1" height="3.6" fill="#f23645"/>
<rect x="1077.06" y="219.8" width="1.3" height="29.1" fill="#f23645" fill-opacity="0.75"/>
<rect x="1076.16" y="225.7" width="3.1" height="21.7" fill="#f23645"/>
<rect x="1082.12" y="240.9" width="1.3" height="11.9" fill="#f23645" fill-opacity="0.75"/>
<rect x="1081.22" y="246.2" width="3.1" height="5.1" fill="#f23645"/>
<rect x="1087.17" y="240.6" width="1.3" height="14.5" fill="#f23645" fill-opacity="0.75"/>
<rect x="1086.27" y="249.9" width="3.1" height="3.1" fill="#f23645"/>
<rect x="1092.22" y="250.1" width="1.3" height="70.4" fill="#f23645" fill-opacity="0.75"/>
<rect x="1091.32" y="251.8" width="3.1" height="30.1" fill="#f23645"/>
<rect x="1097.27" y="271.1" width="1.3" height="24.1" fill="#f23645" fill-opacity="0.75"/>
<rect x="1096.37" y="281.4" width="3.1" height="7.3" fill="#f23645"/>
<rect x="1102.33" y="245.1" width="1.3" height="53.0" fill="#089981" fill-opacity="0.75"/>
<rect x="1101.43" y="262.7" width="3.1" height="26.0" fill="#089981"/>
<rect x="1107.38" y="257.8" width="1.3" height="55.5" fill="#f23645" fill-opacity="0.75"/>
<rect x="1106.48" y="262.2" width="3.1" height="46.7" fill="#f23645"/>
<rect x="1112.43" y="292.3" width="1.3" height="28.2" fill="#089981" fill-opacity="0.75"/>
<rect x="1111.53" y="298.8" width="3.1" height="10.8" fill="#089981"/>
<rect x="1117.48" y="287.5" width="1.3" height="17.3" fill="#089981" fill-opacity="0.75"/>
<rect x="1116.58" y="294.5" width="3.1" height="5.0" fill="#089981"/>
<rect x="1122.54" y="277.1" width="1.3" height="26.5" fill="#089981" fill-opacity="0.75"/>
<rect x="1121.64" y="277.8" width="3.1" height="17.4" fill="#089981"/>
<rect x="1127.59" y="262.2" width="1.3" height="20.9" fill="#089981" fill-opacity="0.75"/>
<rect x="1126.69" y="274.7" width="3.1" height="4.1" fill="#089981"/>
<rect x="1132.64" y="268.7" width="1.3" height="22.1" fill="#f23645" fill-opacity="0.75"/>
<rect x="1131.74" y="274.7" width="3.1" height="9.2" fill="#f23645"/>
<rect x="1137.69" y="254.2" width="1.3" height="36.9" fill="#089981" fill-opacity="0.75"/>
<rect x="1136.79" y="257.1" width="3.1" height="27.2" fill="#089981"/>
<rect x="1142.75" y="218.8" width="1.3" height="40.2" fill="#089981" fill-opacity="0.75"/>
<rect x="1141.85" y="234.5" width="3.1" height="23.3" fill="#089981"/>
<rect x="1147.80" y="219.8" width="1.3" height="23.6" fill="#089981" fill-opacity="0.75"/>
<rect x="1146.90" y="233.6" width="3.1" height="1.0" fill="#089981"/>
<rect x="1152.85" y="230.6" width="1.3" height="29.2" fill="#f23645" fill-opacity="0.75"/>
<rect x="1151.95" y="233.7" width="3.1" height="18.8" fill="#f23645"/>
<rect x="1157.91" y="225.8" width="1.3" height="32.0" fill="#089981" fill-opacity="0.75"/>
<rect x="1157.01" y="251.3" width="3.1" height="1.7" fill="#089981"/>
<rect x="1162.96" y="231.3" width="1.3" height="24.1" fill="#089981" fill-opacity="0.75"/>
<rect x="1162.06" y="246.5" width="3.1" height="6.0" fill="#089981"/>
<rect x="1168.01" y="243.4" width="1.3" height="39.7" fill="#f23645" fill-opacity="0.75"/>
<rect x="1167.11" y="247.0" width="3.1" height="34.9" fill="#f23645"/>
<rect x="1173.06" y="263.1" width="1.3" height="24.9" fill="#089981" fill-opacity="0.75"/>
<rect x="1172.16" y="275.2" width="3.1" height="6.7" fill="#089981"/>
<rect x="1178.12" y="274.7" width="1.3" height="26.5" fill="#f23645" fill-opacity="0.75"/>
<rect x="1177.22" y="275.2" width="3.1" height="20.0" fill="#f23645"/>
<rect x="1183.17" y="285.5" width="1.3" height="402.5" fill="#f23645" fill-opacity="0.75"/>
<rect x="1182.27" y="294.5" width="3.1" height="110.1" fill="#f23645"/>
<rect x="1188.22" y="369.6" width="1.3" height="53.1" fill="#089981" fill-opacity="0.75"/>
<rect x="1187.32" y="401.4" width="3.1" height="3.7" fill="#089981"/>
<rect x="1193.27" y="349.4" width="1.3" height="69.2" fill="#089981" fill-opacity="0.75"/>
<rect x="1192.37" y="363.7" width="3.1" height="37.7" fill="#089981"/>
<rect x="1198.33" y="334.5" width="1.3" height="33.0" fill="#089981" fill-opacity="0.75"/>
<rect x="1197.43" y="343.9" width="3.1" height="20.8" fill="#089981"/>
<rect x="1203.38" y="340.2" width="1.3" height="58.8" fill="#f23645" fill-opacity="0.75"/>
<rect x="1202.48" y="343.9" width="3.1" height="27.5" fill="#f23645"/>
<rect x="1208.43" y="358.3" width="1.3" height="43.9" fill="#f23645" fill-opacity="0.75"/>
<rect x="1207.53" y="370.7" width="3.1" height="24.2" fill="#f23645"/>
<rect x="1213.49" y="379.7" width="1.3" height="44.2" fill="#f23645" fill-opacity="0.75"/>
<rect x="1212.59" y="394.3" width="3.1" height="20.6" fill="#f23645"/>
<rect x="1218.54" y="397.3" width="1.3" height="52.3" fill="#f23645" fill-opacity="0.75"/>
<rect x="1217.64" y="414.9" width="3.1" height="9.7" fill="#f23645"/>
<rect x="1223.59" y="399.8" width="1.3" height="25.3" fill="#089981" fill-opacity="0.75"/>
<rect x="1222.69" y="407.0" width="3.1" height="17.6" fill="#089981"/>
<rect x="1228.64" y="391.4" width="1.3" height="25.7" fill="#089981" fill-opacity="0.75"/>
<rect x="1227.74" y="399.0" width="3.1" height="8.5" fill="#089981"/>
<rect x="1233.70" y="358.5" width="1.3" height="49.2" fill="#089981" fill-opacity="0.75"/>
<rect x="1232.80" y="372.8" width="3.1" height="27.0" fill="#089981"/>
<rect x="1238.75" y="362.7" width="1.3" height="33.4" fill="#f23645" fill-opacity="0.75"/>
<rect x="1237.85" y="372.8" width="3.1" height="19.1" fill="#f23645"/>
<rect x="1243.80" y="387.5" width="1.3" height="28.4" fill="#f23645" fill-opacity="0.75"/>
<rect x="1242.90" y="390.5" width="3.1" height="15.3" fill="#f23645"/>
<rect x="1248.85" y="390.1" width="1.3" height="16.9" fill="#089981" fill-opacity="0.75"/>
<rect x="1247.95" y="398.1" width="3.1" height="8.2" fill="#089981"/>
<rect x="1253.91" y="366.5" width="1.3" height="33.3" fill="#089981" fill-opacity="0.75"/>
<rect x="1253.01" y="369.0" width="3.1" height="29.6" fill="#089981"/>
<rect x="1258.96" y="331.3" width="1.3" height="39.8" fill="#089981" fill-opacity="0.75"/>
<rect x="1258.06" y="346.3" width="3.1" height="23.4" fill="#089981"/>
<rect x="1264.01" y="328.9" width="1.3" height="19.3" fill="#089981" fill-opacity="0.75"/>
<rect x="1263.11" y="336.1" width="3.1" height="11.4" fill="#089981"/>
<rect x="1269.06" y="321.2" width="1.3" height="23.4" fill="#f23645" fill-opacity="0.75"/>
<rect x="1268.16" y="334.9" width="3.1" height="3.2" fill="#f23645"/>
<rect x="1274.12" y="324.6" width="1.3" height="28.9" fill="#f23645" fill-opacity="0.75"/>
<rect x="1273.22" y="337.3" width="3.1" height="8.5" fill="#f23645"/>
<rect x="1279.17" y="329.6" width="1.3" height="31.4" fill="#f23645" fill-opacity="0.75"/>
<rect x="1278.27" y="344.6" width="3.1" height="15.2" fill="#f23645"/>
<rect x="1284.22" y="347.0" width="1.3" height="55.9" fill="#f23645" fill-opacity="0.75"/>
<rect x="1283.32" y="359.0" width="3.1" height="27.6" fill="#f23645"/>
<rect x="1289.28" y="357.1" width="1.3" height="31.3" fill="#089981" fill-opacity="0.75"/>
<rect x="1288.38" y="369.2" width="3.1" height="17.6" fill="#089981"/>
<rect x="1294.33" y="366.3" width="1.3" height="10.9" fill="#f23645" fill-opacity="0.75"/>
<rect x="1293.43" y="368.5" width="3.1" height="2.2" fill="#f23645"/>
<rect x="1299.38" y="357.1" width="1.3" height="19.0" fill="#089981" fill-opacity="0.75"/>
<rect x="1298.48" y="365.0" width="3.1" height="5.5" fill="#089981"/>
<rect x="1304.43" y="362.7" width="1.3" height="68.9" fill="#f23645" fill-opacity="0.75"/>
<rect x="1303.53" y="365.0" width="3.1" height="54.8" fill="#f23645"/>
<rect x="1309.49" y="412.5" width="1.3" height="68.7" fill="#f23645" fill-opacity="0.75"/>
<rect x="1308.59" y="419.8" width="3.1" height="26.9" fill="#f23645"/>
<rect x="1314.54" y="403.4" width="1.3" height="69.1" fill="#089981" fill-opacity="0.75"/>
<rect x="1313.64" y="410.6" width="3.1" height="36.1" fill="#089981"/>
<rect x="1319.59" y="392.4" width="1.3" height="59.9" fill="#f23645" fill-opacity="0.75"/>
<rect x="1318.69" y="410.6" width="3.1" height="33.7" fill="#f23645"/>
<rect x="1324.64" y="404.6" width="1.3" height="54.9" fill="#089981" fill-opacity="0.75"/>
<rect x="1323.74" y="418.6" width="3.1" height="25.7" fill="#089981"/>
<rect x="1329.70" y="413.0" width="1.3" height="22.9" fill="#f23645" fill-opacity="0.75"/>
<rect x="1328.80" y="417.8" width="3.1" height="8.5" fill="#f23645"/>
<rect x="1334.75" y="397.4" width="1.3" height="39.7" fill="#089981" fill-opacity="0.75"/>
<rect x="1333.85" y="404.6" width="3.1" height="21.7" fill="#089981"/>
<rect x="1339.80" y="350.6" width="1.3" height="60.0" fill="#089981" fill-opacity="0.75"/>
<rect x="1338.90" y="365.0" width="3.1" height="40.3" fill="#089981"/>
<rect x="1344.86" y="353.5" width="1.3" height="48.7" fill="#f23645" fill-opacity="0.75"/>
<rect x="1343.96" y="365.0" width="3.1" height="34.8" fill="#f23645"/>
<rect x="1349.91" y="384.2" width="1.3" height="33.6" fill="#f23645" fill-opacity="0.75"/>
<rect x="1349.01" y="398.6" width="3.1" height="1.2" fill="#f23645"/>
<rect x="1354.96" y="365.0" width="1.3" height="63.2" fill="#f23645" fill-opacity="0.75"/>
<rect x="1354.06" y="400.5" width="3.1" height="16.6" fill="#f23645"/>
<rect x="1360.01" y="411.8" width="1.3" height="28.9" fill="#f23645" fill-opacity="0.75"/>
<rect x="1359.11" y="416.6" width="3.1" height="20.5" fill="#f23645"/>
<rect x="1365.07" y="421.4" width="1.3" height="22.9" fill="#f23645" fill-opacity="0.75"/>
<rect x="1364.17" y="435.9" width="3.1" height="3.1" fill="#f23645"/>
<rect x="1370.12" y="427.5" width="1.3" height="30.8" fill="#f23645" fill-opacity="0.75"/>
<rect x="1369.22" y="438.3" width="3.1" height="6.5" fill="#f23645"/>
<rect x="1375.17" y="420.7" width="1.3" height="48.9" fill="#f23645" fill-opacity="0.75"/>
<rect x="1374.27" y="443.9" width="3.1" height="13.7" fill="#f23645"/>
<rect x="1380.22" y="437.1" width="1.3" height="33.7" fill="#089981" fill-opacity="0.75"/>
<rect x="1379.32" y="443.1" width="3.1" height="14.5" fill="#089981"/>
<rect x="1385.28" y="441.9" width="1.3" height="49.4" fill="#f23645" fill-opacity="0.75"/>
<rect x="1384.38" y="443.1" width="3.1" height="28.2" fill="#f23645"/>
<rect x="1390.33" y="461.2" width="1.3" height="43.4" fill="#f23645" fill-opacity="0.75"/>
<rect x="1389.43" y="470.8" width="3.1" height="27.8" fill="#f23645"/>
<rect x="1395.38" y="490.1" width="1.3" height="54.2" fill="#f23645" fill-opacity="0.75"/>
<rect x="1394.48" y="498.6" width="3.1" height="13.2" fill="#f23645"/>
<rect x="1400.44" y="506.5" width="1.3" height="19.8" fill="#089981" fill-opacity="0.75"/>
<rect x="1399.54" y="509.9" width="3.1" height="1.9" fill="#089981"/>
<rect x="1405.49" y="476.4" width="1.3" height="35.9" fill="#089981" fill-opacity="0.75"/>
<rect x="1404.59" y="485.8" width="3.1" height="26.0" fill="#089981"/>
<rect x="1410.54" y="425.1" width="1.3" height="66.7" fill="#089981" fill-opacity="0.75"/>
<rect x="1409.64" y="440.2" width="3.1" height="46.3" fill="#089981"/>
<rect x="1415.59" y="431.6" width="1.3" height="29.6" fill="#f23645" fill-opacity="0.75"/>
<rect x="1414.69" y="440.2" width="3.1" height="7.3" fill="#f23645"/>
<rect x="1420.65" y="433.5" width="1.3" height="28.2" fill="#089981" fill-opacity="0.75"/>
<rect x="1419.75" y="441.4" width="3.1" height="6.6" fill="#089981"/>
<rect x="1425.70" y="437.6" width="1.3" height="17.6" fill="#f23645" fill-opacity="0.75"/>
<rect x="1424.80" y="441.4" width="3.1" height="6.6" fill="#f23645"/>
<rect x="1430.75" y="428.2" width="1.3" height="30.1" fill="#f23645" fill-opacity="0.75"/>
<rect x="1429.85" y="447.2" width="3.1" height="6.3" fill="#f23645"/>
<rect x="1435.80" y="441.4" width="1.3" height="14.5" fill="#089981" fill-opacity="0.75"/>
<rect x="1434.90" y="447.2" width="3.1" height="6.8" fill="#089981"/>
<rect x="1440.86" y="444.3" width="1.3" height="15.7" fill="#f23645" fill-opacity="0.75"/>
<rect x="1439.96" y="447.2" width="3.1" height="12.3" fill="#f23645"/>
<rect x="1445.91" y="458.0" width="1.3" height="44.9" fill="#f23645" fill-opacity="0.75"/>
<rect x="1445.01" y="458.5" width="3.1" height="33.4" fill="#f23645"/>
<rect x="1450.96" y="451.8" width="1.3" height="48.0" fill="#089981" fill-opacity="0.75"/>
<rect x="1450.06" y="459.2" width="3.1" height="32.7" fill="#089981"/>
<rect x="1456.01" y="443.1" width="1.3" height="19.3" fill="#089981" fill-opacity="0.75"/>
<rect x="1455.11" y="448.1" width="3.1" height="12.6" fill="#089981"/>
<rect x="1461.07" y="444.4" width="1.3" height="35.5" fill="#f23645" fill-opacity="0.75"/>
<rect x="1460.17" y="448.1" width="3.1" height="26.0" fill="#f23645"/>
<rect x="1466.12" y="469.6" width="1.3" height="25.3" fill="#f23645" fill-opacity="0.75"/>
<rect x="1465.22" y="472.8" width="3.1" height="17.4" fill="#f23645"/>
<rect x="1471.17" y="485.3" width="1.3" height="8.4" fill="#f23645" fill-opacity="0.75"/>
<rect x="1470.27" y="488.4" width="3.1" height="2.4" fill="#f23645"/>
<rect x="1476.23" y="470.4" width="1.3" height="30.1" fill="#089981" fill-opacity="0.75"/>
<rect x="1475.33" y="487.2" width="3.1" height="3.6" fill="#089981"/>
<rect x="1481.28" y="467.2" width="1.3" height="22.4" fill="#089981" fill-opacity="0.75"/>
<rect x="1480.38" y="480.0" width="3.1" height="8.4" fill="#089981"/>
<rect x="1486.33" y="452.8" width="1.3" height="34.4" fill="#089981" fill-opacity="0.75"/>
<rect x="1485.43" y="471.6" width="3.1" height="9.6" fill="#089981"/>
<rect x="1491.38" y="470.4" width="1.3" height="19.2" fill="#f23645" fill-opacity="0.75"/>
<rect x="1490.48" y="471.6" width="3.1" height="17.3" fill="#f23645"/>
<rect x="1496.44" y="484.1" width="1.3" height="19.3" fill="#f23645" fill-opacity="0.75"/>
<rect x="1495.54" y="487.7" width="3.1" height="3.1" fill="#f23645"/>
<rect x="1501.49" y="486.0" width="1.3" height="19.3" fill="#f23645" fill-opacity="0.75"/>
<rect x="1500.59" y="489.6" width="3.1" height="7.3" fill="#f23645"/>
<rect x="1506.54" y="486.1" width="1.3" height="11.5" fill="#089981" fill-opacity="0.75"/>
<rect x="1505.64" y="492.2" width="3.1" height="4.5" fill="#089981"/>
<rect x="1511.59" y="489.6" width="1.3" height="21.2" fill="#f23645" fill-opacity="0.75"/>
<rect x="1510.69" y="492.0" width="3.1" height="12.8" fill="#f23645"/>
<rect x="1516.65" y="495.2" width="1.3" height="36.1" fill="#f23645" fill-opacity="0.75"/>
<rect x="1515.75" y="504.1" width="3.1" height="21.7" fill="#f23645"/>
<rect x="1521.70" y="512.0" width="1.3" height="24.6" fill="#089981" fill-opacity="0.75"/>
<rect x="1520.80" y="516.6" width="3.1" height="9.2" fill="#089981"/>
<rect x="1526.75" y="501.7" width="1.3" height="34.9" fill="#f23645" fill-opacity="0.75"/>
<rect x="1525.85" y="516.6" width="3.1" height="17.6" fill="#f23645"/>
<rect x="1531.81" y="515.4" width="1.3" height="33.8" fill="#f23645" fill-opacity="0.75"/>
<rect x="1530.91" y="533.0" width="3.1" height="14.5" fill="#f23645"/>
<rect x="1536.86" y="518.6" width="1.3" height="38.5" fill="#089981" fill-opacity="0.75"/>
<rect x="1535.96" y="522.2" width="3.1" height="25.3" fill="#089981"/>
<rect x="1541.91" y="508.9" width="1.3" height="16.9" fill="#089981" fill-opacity="0.75"/>
<rect x="1541.01" y="516.1" width="3.1" height="6.8" fill="#089981"/>
<rect x="1546.96" y="511.3" width="1.3" height="13.3" fill="#f23645" fill-opacity="0.75"/>
<rect x="1546.06" y="516.1" width="3.1" height="3.7" fill="#f23645"/>
<rect x="1552.02" y="512.0" width="1.3" height="13.8" fill="#f23645" fill-opacity="0.75"/>
<rect x="1551.12" y="518.6" width="3.1" height="4.8" fill="#f23645"/>
<rect x="1557.07" y="521.7" width="1.3" height="11.3" fill="#f23645" fill-opacity="0.75"/>
<rect x="1556.17" y="522.7" width="3.1" height="7.9" fill="#f23645"/>
<rect x="1562.12" y="529.9" width="1.3" height="9.6" fill="#f23645" fill-opacity="0.75"/>
<rect x="1561.22" y="530.6" width="3.1" height="3.6" fill="#f23645"/>
<rect x="1567.17" y="527.0" width="1.3" height="15.7" fill="#f23645" fill-opacity="0.75"/>
<rect x="1566.27" y="533.0" width="3.1" height="8.9" fill="#f23645"/>
<rect x="1572.23" y="528.2" width="1.3" height="15.2" fill="#089981" fill-opacity="0.75"/>
<rect x="1571.33" y="537.8" width="3.1" height="4.1" fill="#089981"/>
<rect x="1577.28" y="529.4" width="1.3" height="10.1" fill="#089981" fill-opacity="0.75"/>
<rect x="1576.38" y="530.6" width="3.1" height="8.0" fill="#089981"/>
<rect x="1582.33" y="529.4" width="1.3" height="6.0" fill="#f23645" fill-opacity="0.75"/>
<rect x="1581.43" y="531.1" width="3.1" height="2.4" fill="#f23645"/>
<rect x="1587.39" y="519.0" width="1.3" height="19.6" fill="#f23645" fill-opacity="0.75"/>
<rect x="1586.49" y="532.3" width="3.1" height="4.8" fill="#f23645"/>
<rect x="1592.44" y="527.5" width="1.3" height="11.1" fill="#089981" fill-opacity="0.75"/>
<rect x="1591.54" y="529.4" width="3.1" height="7.7" fill="#089981"/>
<rect x="1597.49" y="528.2" width="1.3" height="18.1" fill="#f23645" fill-opacity="0.75"/>
<rect x="1596.59" y="529.4" width="3.1" height="9.6" fill="#f23645"/>
<rect x="1602.54" y="528.2" width="1.3" height="15.7" fill="#089981" fill-opacity="0.75"/>
<rect x="1601.64" y="529.9" width="3.1" height="9.1" fill="#089981"/>
<rect x="1607.60" y="489.6" width="1.3" height="42.2" fill="#089981" fill-opacity="0.75"/>
<rect x="1606.70" y="497.3" width="3.1" height="33.3" fill="#089981"/>
<rect x="1612.65" y="484.1" width="1.3" height="17.6" fill="#089981" fill-opacity="0.75"/>
<rect x="1611.75" y="494.0" width="3.1" height="4.1" fill="#089981"/>
<rect x="1617.70" y="468.0" width="1.3" height="27.2" fill="#089981" fill-opacity="0.75"/>
<rect x="1616.80" y="475.9" width="3.1" height="18.6" fill="#089981"/>
<rect x="1622.75" y="403.4" width="1.3" height="73.7" fill="#089981" fill-opacity="0.75"/>
<rect x="1621.85" y="409.4" width="3.1" height="66.5" fill="#089981"/>
<rect x="1627.81" y="391.6" width="1.3" height="53.9" fill="#f23645" fill-opacity="0.75"/>
<rect x="1626.91" y="409.4" width="3.1" height="11.6" fill="#f23645"/>
<rect x="1632.86" y="416.6" width="1.3" height="42.9" fill="#f23645" fill-opacity="0.75"/>
<rect x="1631.96" y="420.5" width="3.1" height="36.1" fill="#f23645"/>
<rect x="1637.91" y="449.2" width="1.3" height="32.7" fill="#f23645" fill-opacity="0.75"/>
<rect x="1637.01" y="455.9" width="3.1" height="12.1" fill="#f23645"/>
<rect x="1642.96" y="457.1" width="1.3" height="22.9" fill="#f23645" fill-opacity="0.75"/>
<rect x="1642.06" y="467.2" width="3.1" height="8.7" fill="#f23645"/>
<rect x="1648.02" y="470.4" width="1.3" height="7.2" fill="#f23645" fill-opacity="0.75"/>
<rect x="1647.12" y="474.5" width="3.1" height="1.9" fill="#f23645"/>
<rect x="1653.07" y="470.8" width="1.3" height="16.4" fill="#f23645" fill-opacity="0.75"/>
<rect x="1652.17" y="475.2" width="3.1" height="4.1" fill="#f23645"/>
<rect x="1658.12" y="470.4" width="1.3" height="18.5" fill="#f23645" fill-opacity="0.75"/>
<rect x="1657.22" y="478.8" width="3.1" height="6.0" fill="#f23645"/>
<rect x="1663.18" y="451.1" width="1.3" height="34.9" fill="#089981" fill-opacity="0.75"/>
<rect x="1662.28" y="455.9" width="3.1" height="29.4" fill="#089981"/>
<rect x="1668.23" y="449.4" width="1.3" height="14.9" fill="#f23645" fill-opacity="0.75"/>
<rect x="1667.33" y="455.9" width="3.1" height="7.2" fill="#f23645"/>
<rect x="1673.28" y="461.9" width="1.3" height="22.9" fill="#f23645" fill-opacity="0.75"/>
<rect x="1672.38" y="462.7" width="3.1" height="14.9" fill="#f23645"/>
<rect x="1678.33" y="476.4" width="1.3" height="15.6" fill="#f23645" fill-opacity="0.75"/>
<rect x="1677.43" y="477.6" width="3.1" height="3.6" fill="#f23645"/>
<rect x="1683.39" y="476.9" width="1.3" height="7.4" fill="#f23645" fill-opacity="0.75"/>
<rect x="1682.49" y="480.7" width="3.1" height="2.4" fill="#f23645"/>
<rect x="1688.44" y="480.7" width="1.3" height="21.7" fill="#f23645" fill-opacity="0.75"/>
<rect x="1687.54" y="482.4" width="3.1" height="19.3" fill="#f23645"/>
<rect x="1693.49" y="501.0" width="1.3" height="35.9" fill="#f23645" fill-opacity="0.75"/>
<rect x="1692.59" y="501.5" width="3.1" height="6.9" fill="#f23645"/>
</g>
<rect x="4" y="310.85" width="1717.3" height="2.1" fill="#f23645"/>
<rect x="4" y="330.45" width="1717.3" height="2.1" fill="#f23645"/>
<rect x="4" y="403.85" width="1717.3" height="2.1" fill="#f23645"/>
<rect x="4" y="522.35" width="1717.3" height="2.1" fill="#089981"/>
<rect x="4" y="545.95" width="1717.3" height="2.1" fill="#089981"/>
<rect x="4" y="596.05" width="1717.3" height="2.1" fill="#089981"/>
<line x1="768.9" y1="77" x2="1709.4" y2="463.5" stroke="#f23645" stroke-width="1.9" stroke-linecap="round"/>
<line x1="707.7" y1="216.7" x2="1648.7" y2="603.5" stroke="#f23645" stroke-width="1.9" stroke-linecap="round"/>
<g font-size="12" fill="#131722" stroke="#131722" stroke-width="0.25">
<text x="1730.4" y="45.8" textLength="35" lengthAdjust="spacingAndGlyphs">3.8000</text>
<text x="1730.4" y="96.6" textLength="35" lengthAdjust="spacingAndGlyphs">3.6000</text>
<text x="1730.4" y="147.4" textLength="35" lengthAdjust="spacingAndGlyphs">3.4000</text>
<text x="1730.4" y="198.3" textLength="35" lengthAdjust="spacingAndGlyphs">3.2000</text>
<text x="1730.4" y="249.2" textLength="35" lengthAdjust="spacingAndGlyphs">3.0000</text>
<text x="1730.4" y="300.0" textLength="35" lengthAdjust="spacingAndGlyphs">2.8000</text>
<text x="1730.4" y="350.9" textLength="35" lengthAdjust="spacingAndGlyphs">2.6000</text>
<text x="1730.4" y="401.7" textLength="35" lengthAdjust="spacingAndGlyphs">2.4000</text>
<text x="1730.4" y="452.6" textLength="35" lengthAdjust="spacingAndGlyphs">2.2000</text>
<text x="1730.4" y="503.4" textLength="35" lengthAdjust="spacingAndGlyphs">2.0000</text>
<text x="1730.4" y="554.2" textLength="35" lengthAdjust="spacingAndGlyphs">1.8000</text>
<text x="1730.4" y="605.1" textLength="35" lengthAdjust="spacingAndGlyphs">1.6000</text>
<text x="1730.4" y="656.0" textLength="35" lengthAdjust="spacingAndGlyphs">1.4000</text>
<text x="1730.4" y="706.8" textLength="35" lengthAdjust="spacingAndGlyphs">1.2000</text>
</g>
<path d="M1722 304.1H1767.5Q1770 304.1 1770 306.6V318.2Q1770 320.7 1767.5 320.7H1722Z" fill="#f23645"/>
<text x="1730.3" y="316.8" font-size="12" fill="#fff" stroke="#fff" stroke-width="0.3" textLength="34.5" lengthAdjust="spacingAndGlyphs">2.7321</text>
<path d="M1722 323.5H1767.5Q1770 323.5 1770 326.0V337.6Q1770 340.1 1767.5 340.1H1722Z" fill="#f23645"/>
<text x="1730.3" y="336.2" font-size="12" fill="#fff" stroke="#fff" stroke-width="0.3" textLength="34.5" lengthAdjust="spacingAndGlyphs">2.6551</text>
<path d="M1722 397.0H1767.5Q1770 397.0 1770 399.5V411.1Q1770 413.6 1767.5 413.6H1722Z" fill="#f23645"/>
<text x="1730.3" y="409.7" font-size="12" fill="#fff" stroke="#fff" stroke-width="0.3" textLength="34.5" lengthAdjust="spacingAndGlyphs">2.3661</text>
<path d="M1722 500.1H1767.5Q1770 500.1 1770 502.6V514.2Q1770 516.7 1767.5 516.7H1722Z" fill="#f23645"/>
<text x="1730.3" y="512.8" font-size="12" fill="#fff" stroke="#fff" stroke-width="0.3" textLength="34.5" lengthAdjust="spacingAndGlyphs">1.9648</text>
<path d="M1722 516.6H1767.5Q1770 516.6 1770 519.1V530.7Q1770 533.2 1767.5 533.2H1722Z" fill="#089981"/>
<text x="1730.3" y="529.2" font-size="12" fill="#fff" stroke="#fff" stroke-width="0.3" textLength="34.5" lengthAdjust="spacingAndGlyphs">1.9000</text>
<path d="M1722 539.1H1767.5Q1770 539.1 1770 541.6V553.2Q1770 555.7 1767.5 555.7H1722Z" fill="#089981"/>
<text x="1730.3" y="551.8" font-size="12" fill="#fff" stroke="#fff" stroke-width="0.3" textLength="34.5" lengthAdjust="spacingAndGlyphs">1.8075</text>
<path d="M1722 589.2H1767.5Q1770 589.2 1770 591.7V603.3Q1770 605.8 1767.5 605.8H1722Z" fill="#089981"/>
<text x="1730.3" y="601.9" font-size="12" fill="#fff" stroke="#fff" stroke-width="0.3" textLength="34.5" lengthAdjust="spacingAndGlyphs">1.6111</text>
<g font-size="12" fill="#131722" stroke="#131722" stroke-width="0.2" text-anchor="middle">
<text transform="translate(56.6,766.6) scale(0.91,1)">Mar</text>
<text transform="translate(213.2,766.6) scale(0.91,1)">Apr</text>
<text transform="translate(364.8,766.6) scale(0.91,1)">May</text>
<text transform="translate(521.4,766.6) scale(0.91,1)">Jun</text>
<text transform="translate(673.0,766.6) scale(0.91,1)">Jul</text>
<text transform="translate(829.6,766.6) scale(0.91,1)">Aug</text>
<text transform="translate(986.3,766.6) scale(0.91,1)">Sep</text>
<text transform="translate(1137.8,766.6) scale(0.91,1)">Oct</text>
<text transform="translate(1294.5,766.6) scale(0.91,1)">Nov</text>
<text transform="translate(1446.1,766.6) scale(0.91,1)">Dec</text>
<text transform="translate(1602.7,766.6) scale(0.91,1)" font-weight="bold">2026</text>
</g>
<g font-size="12" fill="#131722" stroke="#131722" stroke-width="0.2">
<text x="11.4" y="20.1" textLength="157" lengthAdjust="spacingAndGlyphs">XRP / TetherUS · 1D · Binance</text>
<text x="176.7" y="20.1">O</text>
<text x="185.6" y="20.1" fill="#f23645" stroke="#f23645" textLength="33.7" lengthAdjust="spacingAndGlyphs">1.9914</text>
<text x="226.6" y="20.1">H</text>
<text x="235" y="20.1" fill="#f23645" stroke="#f23645" textLength="34.1" lengthAdjust="spacingAndGlyphs">1.9914</text>
<text x="276.6" y="20.1">L</text>
<text x="283.4" y="20.1" fill="#f23645" stroke="#f23645" textLength="33.6" lengthAdjust="spacingAndGlyphs">1.8470</text>
<text x="324.8" y="20.1">C</text>
<text x="333.2" y="20.1" fill="#f23645" stroke="#f23645" textLength="33.4" lengthAdjust="spacingAndGlyphs">1.9648</text>
<text x="374.4" y="20.1" fill="#f23645" stroke="#f23645" textLength="88.6" lengthAdjust="spacingAndGlyphs">−0.0266 (−1.34%)</text>
<text x="11.4" y="36.7" textLength="21.6" lengthAdjust="spacingAndGlyphs">EMA</text>
<text x="40.8" y="36.7" fill="#f23645" stroke="#f23645" textLength="34.4" lengthAdjust="spacingAndGlyphs">2.0694</text>
<text x="11.4" y="53.1" textLength="21.6" lengthAdjust="spacingAndGlyphs">EMA</text>
<text x="40.8" y="53.1" fill="#2962ff" stroke="#2962ff" textLength="34.4" lengthAdjust="spacingAndGlyphs">2.3145</text>
</g>
<g fill="#131313">
<path d="M5.85 798H17.3V812.2H11.75V803.5H5.85Z"/>
<circle cx="22.3" cy="800.8" r="2.8"/>
<path d="M28.05 798H34.8L29.4 812.2H22.9Z"/>
<text x="42" y="812.4" font-size="20" font-weight="bold" textLength="118.3" lengthAdjust="spacingAndGlyphs">TradingView</text>
</g>
</svg></body></html>
